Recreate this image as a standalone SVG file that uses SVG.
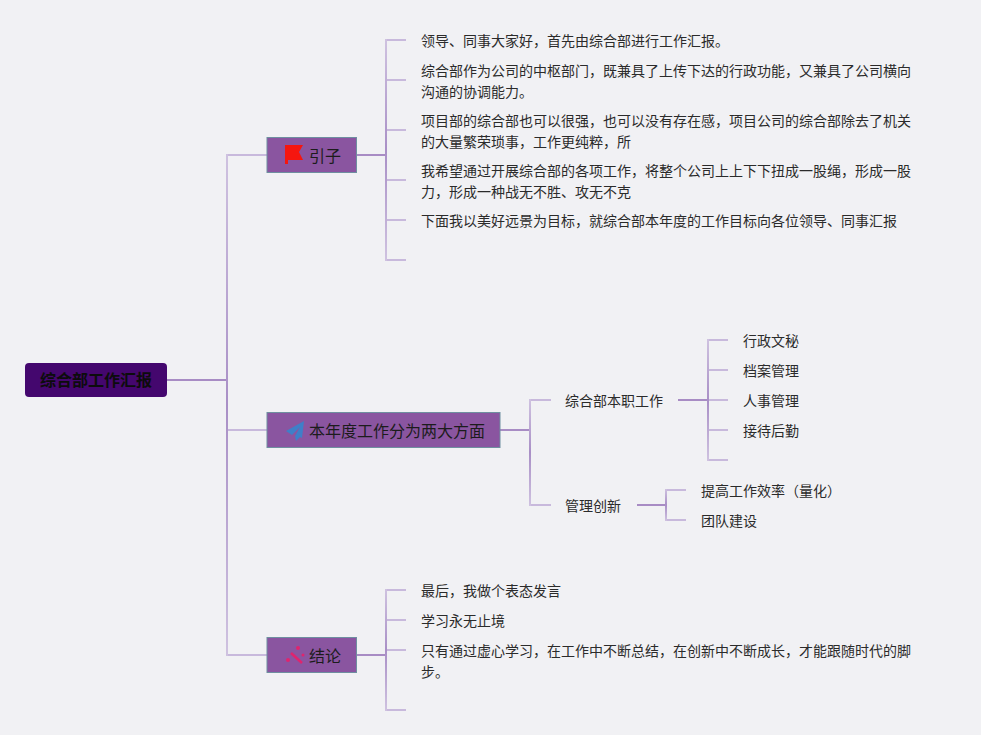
<svg xmlns="http://www.w3.org/2000/svg" width="981" height="735" viewBox="0 0 981 735">
<defs>
<linearGradient id="v" x1="0" y1="0" x2="0" y2="1">
<stop offset="0" stop-color="#cfc2e0"/>
<stop offset="0.5" stop-color="#a98fc6"/>
<stop offset="1" stop-color="#cfc2e0"/>
</linearGradient>
</defs>
<style>
text{font-family:"Noto Sans CJK SC","Noto Sans",sans-serif;font-size:14px;fill:#2b2b2b}
.t{font-size:16px;fill:#1c1c1c}
.r{font-size:16px;font-weight:700;fill:#0c0c0c}
.box{fill:#8a55a0;stroke:#6f8fa0;stroke-width:1}
.c{fill:none;stroke:#c8b9dc;stroke-width:2}
.d{fill:none;stroke:#a88cc4;stroke-width:2}
.v{fill:url(#v)}
</style>
<rect width="981" height="735" fill="#f1f1f4"/>
<g id="connectors">
<path class="d" d="M167 380H227"/>
<path class="c" d="M267 155H227M267 430H227M267 655H227"/>
<rect class="v" x="226" y="154" width="2" height="502"/>
<path class="d" d="M357 155H386M500 430H530M357 655H386M637 505H666M678 400H708"/>
<path class="c" d="M406 40H386M406 80H386M406 130H386M406 180H386M406 220H386M406 260H386"/>
<rect class="v" x="385" y="39" width="2" height="222"/>
<path class="c" d="M406 590H386M406 620H386M406 650H386M406 710H386"/>
<rect class="v" x="385" y="589" width="2" height="122"/>
<path class="c" d="M551 400H530M551 505H530"/>
<rect class="v" x="529" y="399" width="2" height="107"/>
<path class="c" d="M728 340H708M728 370H708M728 400H708M728 430H708M728 460H708"/>
<rect class="v" x="707" y="339" width="2" height="122"/>
<path class="c" d="M686 490H666M686 520H666"/>
<rect class="v" x="665" y="489" width="2" height="32"/>
</g>
<g id="root"><rect x="25" y="363" width="142" height="34" rx="4" fill="#44076e"/><text class="r" x="96" y="386" text-anchor="middle">综合部工作汇报</text></g>
<g id="n-intro"><rect class="box" x="267" y="137.500" width="89.500" height="35"/><path d="M285 164V145H303L299 152L303 160H288V164Z" fill="#f5160f"/><text class="t" x="309" y="162">引子</text></g>
<g id="n-year"><rect class="box" x="267" y="412.500" width="233" height="35"/><path d="M304 421L286 431L292 435L300 427L295 436L296 441L300 437L302 438Z" fill="#3f7fc8"/><text class="t" x="309" y="437">本年度工作分为两大方面</text></g>
<g id="n-end"><rect class="box" x="267" y="637.500" width="89.500" height="35"/><path d="M291 653L302 663" stroke="#e0246e" stroke-width="2.500" fill="none"/><circle cx="298" cy="648" r="2" fill="#e0246e"/><circle cx="288" cy="660" r="2" fill="#e0246e"/><circle cx="303" cy="655" r="1.500" fill="#e0246e"/><text class="t" x="309" y="662">结论</text></g>
<g id="l1"><text x="421" y="46">领导、同事大家好，首先由综合部进行工作汇报。</text></g>
<g id="l2"><text x="421" y="76">综合部作为公司的中枢部门，既兼具了上传下达的行政功能，又兼具了公司横向</text><text x="421" y="97">沟通的协调能力。</text></g>
<g id="l3"><text x="421" y="126">项目部的综合部也可以很强，也可以没有存在感，项目公司的综合部除去了机关</text><text x="421" y="147">的大量繁荣琐事，工作更纯粹，所</text></g>
<g id="l4"><text x="421" y="176">我希望通过开展综合部的各项工作，将整个公司上上下下扭成一股绳，形成一股</text><text x="421" y="197">力，形成一种战无不胜、攻无不克</text></g>
<g id="l5"><text x="421" y="226">下面我以美好远景为目标，就综合部本年度的工作目标向各位领导、同事汇报</text></g>
<g id="m1"><text x="565" y="406">综合部本职工作</text></g>
<g id="m2"><text x="565" y="511">管理创新</text></g>
<g id="a1"><text x="743" y="346">行政文秘</text></g>
<g id="a2"><text x="743" y="376">档案管理</text></g>
<g id="a3"><text x="743" y="406">人事管理</text></g>
<g id="a4"><text x="743" y="436">接待后勤</text></g>
<g id="b1"><text x="701" y="496">提高工作效率（量化）</text></g>
<g id="b2"><text x="701" y="526">团队建设</text></g>
<g id="e1"><text x="421" y="596">最后，我做个表态发言</text></g>
<g id="e2"><text x="421" y="626">学习永无止境</text></g>
<g id="e3"><text x="421" y="656">只有通过虚心学习，在工作中不断总结，在创新中不断成长，才能跟随时代的脚</text><text x="421" y="677">步。</text></g>
</svg>
